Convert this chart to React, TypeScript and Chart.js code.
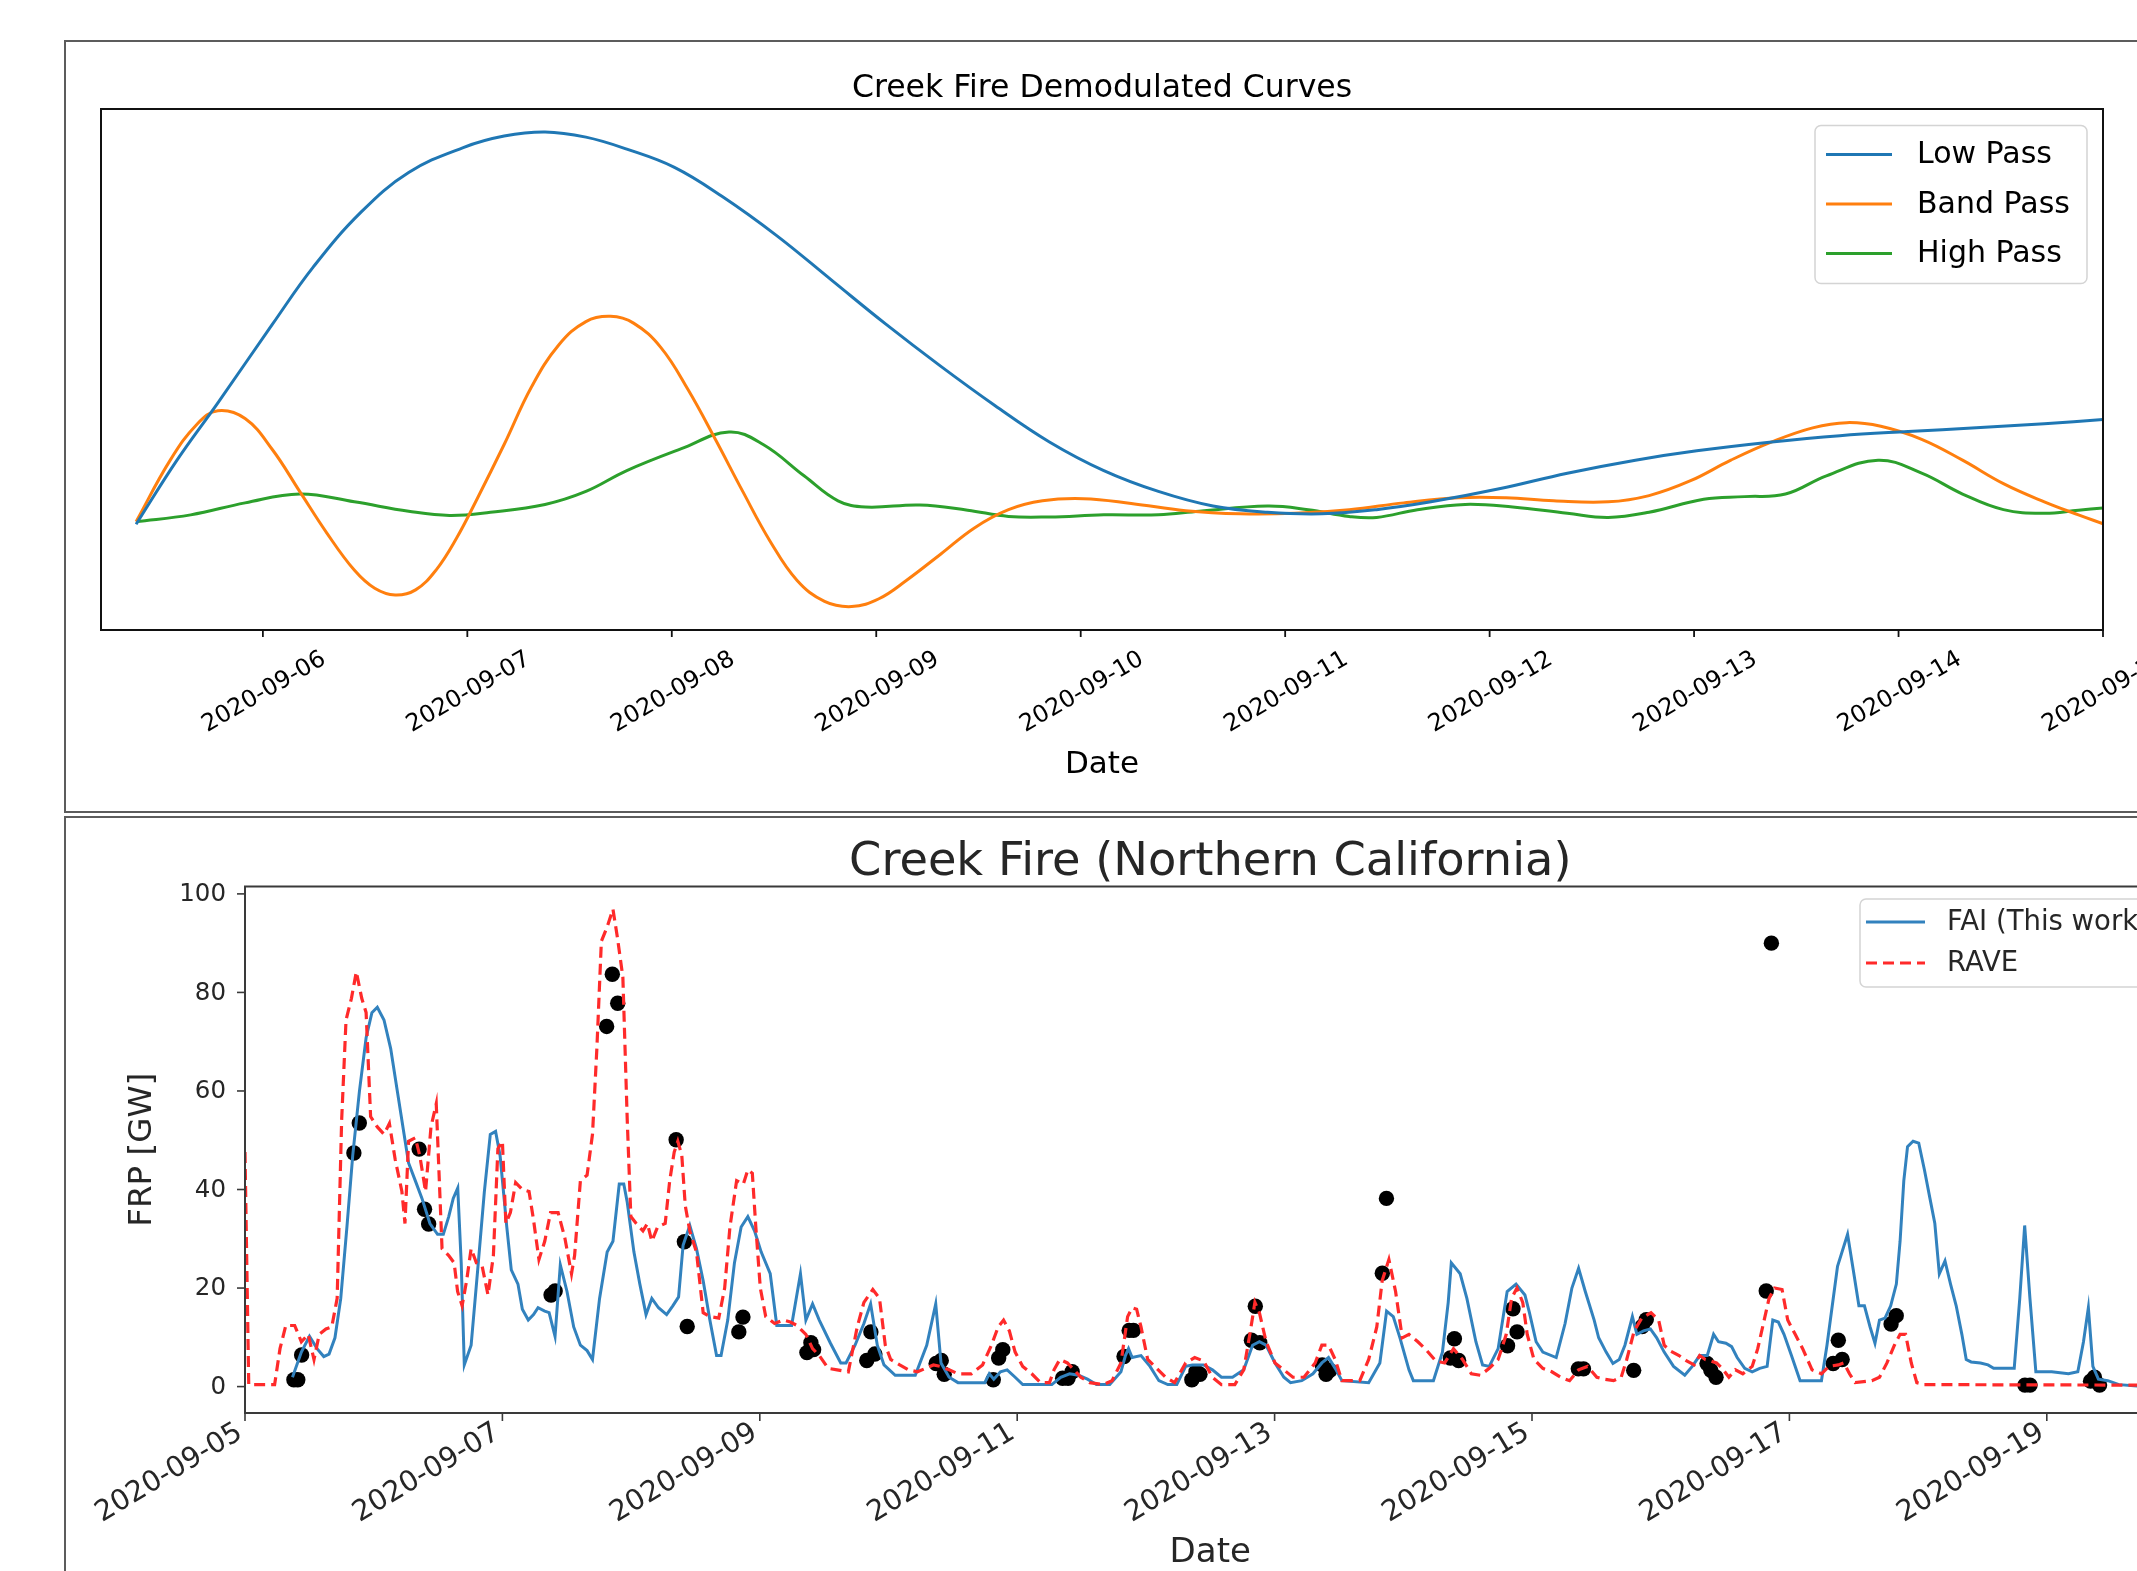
import React, { useEffect, useRef } from 'react';
import { Chart, registerables } from 'chart.js';

Chart.register(...registerables);

const FONT = '"DejaVu Sans", "Liberation Sans", sans-serif';

// ---------------- Top panel: demodulated curves ----------------
// x values are days since 2020-09-05 00:00
const topTickDays = [1, 2, 3, 4, 5, 6, 7, 8, 9, 10];
const topTickLabels = ['2020-09-06', '2020-09-07', '2020-09-08', '2020-09-09', '2020-09-10', '2020-09-11', '2020-09-12', '2020-09-13', '2020-09-14', '2020-09-15'];

const lowPassDays = [0.38, 0.58, 0.78, 1.047, 1.247, 1.48, 1.713, 1.98, 2.18, 2.38, 2.58, 2.78, 3.013, 3.247, 3.513, 3.78, 4.047, 4.313, 4.58, 4.847, 5.113, 5.38, 5.647, 5.913, 6.18, 6.447, 6.713, 7.047, 7.38, 7.713, 8.013, 8.38, 8.713, 9.047, 9.38, 9.713, 10.0];
const lowPassValues = [20.3, 32.6, 43.6, 58.7, 69.7, 80.2, 87.8, 92.6, 94.8, 95.6, 94.6, 92.3, 88.8, 83.2, 75.7, 67.2, 58.7, 50.7, 43.1, 36.1, 30.6, 26.6, 23.8, 22.6, 22.3, 23.1, 24.6, 27.1, 30.1, 32.6, 34.4, 36.1, 37.3, 38.1, 38.8, 39.6, 40.4];

const bandPassDays = [0.38, 0.547, 0.68, 0.78, 0.913, 1.047, 1.18, 1.313, 1.447, 1.547, 1.647, 1.747, 1.847, 1.947, 2.047, 2.18, 2.313, 2.447, 2.58, 2.7, 2.813, 2.947, 3.08, 3.213, 3.347, 3.48, 3.613, 3.747, 3.88, 4.013, 4.147, 4.313, 4.48, 4.647, 4.813, 5.013, 5.247, 5.513, 5.78, 6.047, 6.313, 6.58, 6.847, 7.08, 7.313, 7.58, 7.78, 7.98, 8.18, 8.38, 8.58, 8.747, 8.913, 9.113, 9.313, 9.513, 9.713, 9.88, 10.0];
const bandPassValues = [20.8, 32.6, 39.6, 42.1, 40.6, 34.6, 26.6, 18.6, 11.5, 8.0, 6.7, 7.7, 11.5, 17.6, 25.1, 35.6, 46.6, 54.7, 59.2, 60.2, 58.9, 54.2, 46.1, 36.6, 26.6, 17.1, 9.5, 5.5, 4.5, 6.0, 9.5, 14.5, 19.6, 23.1, 24.8, 25.2, 24.3, 22.9, 22.3, 22.4, 23.1, 24.4, 25.4, 25.4, 24.8, 24.6, 25.8, 28.6, 32.6, 36.1, 38.8, 39.8, 39.1, 36.6, 32.6, 28.1, 24.6, 22.1, 20.4];

const highPassDays = [0.38, 0.647, 0.913, 1.18, 1.447, 1.713, 1.913, 2.113, 2.38, 2.58, 2.78, 3.047, 3.28, 3.447, 3.647, 3.813, 3.947, 4.213, 4.447, 4.647, 4.847, 5.113, 5.38, 5.58, 5.913, 6.113, 6.313, 6.447, 6.647, 6.88, 7.113, 7.38, 7.58, 7.78, 8.047, 8.247, 8.447, 8.647, 8.9, 9.113, 9.313, 9.513, 9.713, 9.88, 10.0];
const highPassValues = [20.8, 22.1, 24.4, 26.1, 24.6, 22.8, 22.0, 22.6, 24.1, 26.6, 30.6, 34.8, 38.0, 35.6, 29.6, 24.8, 23.6, 24.0, 23.0, 21.8, 21.7, 22.1, 22.1, 22.8, 23.8, 23.1, 21.8, 21.6, 23.1, 24.1, 23.6, 22.4, 21.6, 22.6, 25.1, 25.6, 26.1, 29.6, 32.6, 30.1, 26.1, 23.1, 22.4, 23.0, 23.4];

// ---------------- Bottom panel: FRP time series ----------------
const bottomTickDays = [0, 2, 4, 6, 8, 10, 12, 14];
const bottomTickLabels = ['2020-09-05', '2020-09-07', '2020-09-09', '2020-09-11', '2020-09-13', '2020-09-15', '2020-09-17', '2020-09-19'];
const yTickValues = [0, 20, 40, 60, 80, 100];

const faiDays = [0.369, 0.438, 0.501, 0.56, 0.612, 0.653, 0.699, 0.744, 0.792, 0.837, 0.889, 0.941, 0.986, 1.028, 1.08, 1.132, 1.184, 1.236, 1.271, 1.323, 1.375, 1.437, 1.496, 1.541, 1.583, 1.618, 1.653, 1.68, 1.704, 1.757, 1.808, 1.86, 1.906, 1.947, 1.982, 2.034, 2.069, 2.121, 2.155, 2.201, 2.242, 2.277, 2.329, 2.363, 2.409, 2.45, 2.502, 2.554, 2.606, 2.658, 2.7, 2.755, 2.814, 2.859, 2.908, 2.943, 2.97, 3.022, 3.068, 3.116, 3.161, 3.213, 3.276, 3.324, 3.369, 3.404, 3.456, 3.508, 3.56, 3.612, 3.664, 3.699, 3.751, 3.803, 3.855, 3.907, 3.959, 4.011, 4.081, 4.132, 4.184, 4.247, 4.316, 4.358, 4.41, 4.462, 4.549, 4.629, 4.67, 4.74, 4.809, 4.861, 4.913, 4.965, 5.052, 5.208, 5.297, 5.367, 5.408, 5.471, 5.54, 5.748, 5.783, 5.818, 5.87, 5.922, 5.984, 6.043, 6.269, 6.338, 6.407, 6.477, 6.546, 6.616, 6.719, 6.806, 6.841, 6.865, 6.893, 6.962, 7.032, 7.101, 7.17, 7.24, 7.309, 7.361, 7.448, 7.517, 7.587, 7.673, 7.76, 7.829, 7.882, 7.934, 8.003, 8.072, 8.124, 8.211, 8.298, 8.367, 8.419, 8.471, 8.523, 8.731, 8.818, 8.87, 8.922, 8.974, 9.044, 9.078, 9.234, 9.304, 9.349, 9.373, 9.442, 9.494, 9.564, 9.616, 9.668, 9.737, 9.807, 9.876, 9.945, 9.98, 10.032, 10.084, 10.188, 10.257, 10.31, 10.362, 10.414, 10.483, 10.518, 10.576, 10.629, 10.678, 10.722, 10.78, 10.815, 10.867, 10.92, 10.969, 11.027, 11.1, 11.187, 11.245, 11.303, 11.362, 11.411, 11.449, 11.507, 11.551, 11.594, 11.653, 11.711, 11.769, 11.827, 11.871, 11.914, 11.958, 12.016, 12.083, 12.249, 12.292, 12.374, 12.452, 12.496, 12.54, 12.583, 12.627, 12.665, 12.7, 12.743, 12.787, 12.831, 12.86, 12.889, 12.918, 12.961, 13.005, 13.049, 13.092, 13.13, 13.165, 13.209, 13.252, 13.296, 13.34, 13.374, 13.412, 13.485, 13.543, 13.587, 13.747, 13.79, 13.828, 13.869, 13.915, 14.038, 14.168, 14.241, 14.285, 14.323, 14.358, 14.401, 14.474, 14.561, 14.701, 14.9];
const faiValues = [1.9, 7.0, 10.2, 7.7, 6.1, 6.6, 9.9, 17.9, 32.4, 46.9, 59.9, 70.8, 75.9, 77.0, 74.4, 68.6, 59.9, 51.2, 45.4, 41.8, 38.2, 33.1, 30.9, 30.9, 34.5, 38.2, 40.3, 25.1, 4.4, 8.4, 23.7, 39.6, 51.2, 51.8, 46.9, 32.4, 23.7, 20.8, 15.7, 13.5, 14.6, 16.0, 15.3, 15.0, 10.2, 24.7, 19.3, 12.1, 8.4, 7.3, 5.5, 17.9, 27.3, 29.5, 41.1, 41.1, 37.4, 27.3, 20.8, 14.6, 17.9, 16.0, 14.6, 16.4, 18.2, 28.7, 32.7, 28.0, 21.5, 13.5, 6.3, 6.3, 13.5, 25.1, 32.4, 34.5, 31.6, 27.3, 22.9, 12.4, 12.4, 12.4, 22.9, 13.5, 16.8, 13.5, 8.8, 4.8, 4.8, 8.4, 12.8, 16.8, 8.4, 4.4, 2.3, 2.3, 8.4, 16.8, 4.8, 1.9, 0.8, 0.8, 2.6, 1.5, 3.0, 3.4, 1.9, 0.4, 0.4, 1.9, 2.6, 2.3, 1.5, 0.4, 0.4, 3.0, 6.3, 7.7, 5.9, 6.3, 4.1, 1.2, 0.4, 0.4, 4.1, 4.4, 4.4, 3.4, 1.9, 1.9, 3.4, 8.4, 9.1, 8.4, 4.8, 1.9, 0.8, 1.2, 2.6, 4.8, 5.9, 3.7, 1.2, 0.8, 4.8, 15.3, 14.2, 9.9, 3.4, 1.2, 1.2, 7.0, 17.1, 25.1, 22.9, 17.9, 9.1, 4.4, 4.1, 7.7, 19.3, 20.8, 18.6, 15.0, 9.1, 7.0, 5.9, 12.8, 20.0, 24.0, 19.3, 13.5, 9.9, 7.0, 4.7, 5.5, 8.4, 14.2, 10.6, 11.3, 11.7, 9.9, 7.0, 4.1, 2.3, 4.1, 6.3, 6.3, 10.6, 9.1, 8.8, 8.1, 5.9, 3.7, 3.0, 3.7, 4.1, 13.5, 13.1, 10.6, 6.3, 1.2, 1.2, 8.4, 24.4, 30.9, 23.7, 16.4, 16.4, 12.1, 8.8, 13.5, 13.9, 16.4, 20.8, 29.5, 41.8, 48.7, 49.8, 49.4, 44.0, 38.2, 33.1, 22.9, 25.5, 20.8, 16.4, 10.6, 5.5, 5.0, 4.8, 4.4, 3.7, 3.7, 17.9, 32.7, 17.9, 3.0, 3.0, 2.6, 3.0, 9.1, 16.0, 4.1, 1.5, 1.2, 0.4, 0.1, 0.2];

const raveDays = [0, 0.029, 0.23, 0.272, 0.317, 0.386, 0.438, 0.491, 0.536, 0.577, 0.629, 0.674, 0.716, 0.751, 0.785, 0.827, 0.865, 0.907, 0.941, 0.976, 1.028, 1.08, 1.122, 1.167, 1.219, 1.243, 1.271, 1.323, 1.358, 1.403, 1.445, 1.486, 1.531, 1.583, 1.625, 1.652, 1.687, 1.722, 1.757, 1.798, 1.843, 1.888, 1.93, 1.965, 2.0, 2.027, 2.062, 2.103, 2.155, 2.207, 2.242, 2.284, 2.329, 2.374, 2.433, 2.485, 2.537, 2.561, 2.606, 2.658, 2.7, 2.734, 2.769, 2.814, 2.859, 2.894, 2.936, 2.97, 2.998, 3.04, 3.092, 3.127, 3.161, 3.206, 3.265, 3.3, 3.335, 3.363, 3.394, 3.421, 3.456, 3.508, 3.56, 3.612, 3.681, 3.727, 3.768, 3.82, 3.872, 3.907, 3.942, 3.969, 4.004, 4.046, 4.115, 4.184, 4.237, 4.289, 4.358, 4.41, 4.462, 4.531, 4.601, 4.688, 4.757, 4.809, 4.878, 4.93, 4.975, 5.017, 5.087, 5.156, 5.225, 5.349, 5.401, 5.471, 5.54, 5.644, 5.731, 5.8, 5.852, 5.894, 5.939, 5.984, 6.043, 6.113, 6.182, 6.251, 6.286, 6.331, 6.39, 6.442, 6.494, 6.563, 6.667, 6.737, 6.806, 6.858, 6.893, 6.928, 6.962, 7.014, 7.084, 7.153, 7.223, 7.309, 7.379, 7.448, 7.517, 7.587, 7.691, 7.76, 7.812, 7.847, 7.882, 7.934, 8.003, 8.072, 8.142, 8.228, 8.315, 8.367, 8.419, 8.471, 8.523, 8.662, 8.731, 8.794, 8.836, 8.888, 8.94, 8.992, 9.044, 9.113, 9.183, 9.252, 9.321, 9.39, 9.46, 9.529, 9.598, 9.668, 9.737, 9.8, 9.841, 9.883, 9.928, 9.963, 10.015, 10.084, 10.154, 10.223, 10.292, 10.362, 10.431, 10.504, 10.562, 10.634, 10.693, 10.736, 10.794, 10.853, 10.925, 10.984, 11.027, 11.071, 11.143, 11.202, 11.26, 11.303, 11.347, 11.391, 11.434, 11.478, 11.53, 11.58, 11.638, 11.711, 11.754, 11.798, 11.842, 11.885, 11.943, 11.987, 12.045, 12.103, 12.176, 12.249, 12.307, 12.38, 12.423, 12.467, 12.511, 12.641, 12.7, 12.758, 12.816, 12.86, 12.903, 12.947, 12.99, 13.049, 14.701, 14.9];
const raveValues = [47.6, 0.4, 0.4, 7.7, 12.4, 12.4, 9.1, 10.6, 5.5, 10.6, 11.7, 12.1, 17.9, 54.1, 74.4, 78.8, 84.2, 78.8, 75.9, 54.8, 52.7, 51.2, 53.4, 46.1, 39.6, 33.1, 49.8, 50.5, 46.9, 39.6, 52.7, 57.4, 28.0, 26.6, 25.1, 19.3, 16.4, 21.5, 28.0, 25.1, 24.4, 18.6, 26.6, 48.3, 49.8, 33.1, 35.3, 41.4, 40.0, 39.6, 33.8, 25.8, 29.5, 35.3, 35.3, 30.2, 22.9, 26.6, 41.8, 42.9, 51.2, 68.6, 90.4, 93.3, 96.9, 91.1, 83.1, 54.1, 34.5, 33.1, 31.6, 33.1, 29.5, 32.4, 33.1, 41.8, 47.6, 49.8, 46.9, 36.7, 31.6, 27.3, 15.0, 14.2, 13.9, 20.0, 32.4, 41.8, 41.1, 44.0, 43.3, 32.4, 20.0, 14.2, 12.8, 13.5, 13.1, 12.4, 10.6, 7.7, 6.3, 3.7, 3.4, 3.0, 12.1, 17.1, 19.7, 17.9, 8.4, 5.5, 4.4, 3.4, 3.0, 4.4, 4.1, 3.4, 2.6, 2.6, 4.4, 8.4, 12.1, 13.5, 11.3, 7.0, 4.1, 2.6, 0.8, 0.8, 3.4, 5.5, 4.8, 3.4, 1.9, 0.8, 0.4, 1.2, 4.8, 14.2, 16.0, 15.7, 12.1, 5.5, 3.7, 1.9, 0.8, 4.8, 5.9, 5.2, 1.9, 0.4, 0.4, 3.4, 11.3, 17.1, 15.0, 9.1, 4.8, 3.4, 1.9, 1.9, 4.8, 8.4, 8.4, 5.5, 1.2, 1.2, 5.5, 12.1, 21.5, 25.8, 19.3, 9.9, 10.6, 9.1, 7.3, 5.2, 4.8, 7.7, 5.5, 2.6, 2.3, 3.7, 5.5, 10.6, 17.9, 20.0, 17.1, 10.6, 5.5, 3.7, 3.0, 1.9, 1.2, 3.4, 4.1, 1.9, 1.5, 1.2, 1.9, 5.5, 11.3, 13.9, 15.0, 13.5, 8.4, 7.3, 6.3, 5.2, 4.4, 6.3, 5.5, 5.2, 4.8, 3.7, 1.9, 3.4, 2.6, 4.1, 7.7, 12.8, 17.9, 20.0, 19.7, 13.5, 10.6, 7.7, 3.4, 2.6, 4.1, 4.4, 4.8, 2.6, 0.8, 1.2, 1.9, 4.8, 8.4, 10.6, 10.6, 4.8, 0.8, 0.4, 0.3, 0.3];

const obsDays = [0.38, 0.41, 0.44, 0.846, 0.888, 1.353, 1.395, 1.427, 2.378, 2.41, 2.81, 2.854, 2.896, 3.35, 3.414, 3.436, 3.837, 3.869, 4.366, 4.397, 4.418, 4.831, 4.863, 4.894, 5.37, 5.41, 5.433, 5.814, 5.856, 5.888, 6.353, 6.395, 6.427, 6.83, 6.87, 6.903, 7.357, 7.389, 7.42, 7.82, 7.85, 7.885, 8.37, 8.4, 8.43, 8.837, 8.869, 9.366, 9.397, 9.43, 9.81, 9.852, 9.884, 10.36, 10.4, 10.79, 10.856, 10.888, 11.36, 11.39, 11.43, 11.82, 11.86, 12.34, 12.38, 12.41, 12.79, 12.83, 13.83, 13.87, 14.34, 14.37, 14.41];
const obsValues = [1.4, 1.4, 6.4, 47.4, 53.5, 48.2, 36.0, 33.0, 18.6, 19.4, 73.1, 83.7, 77.8, 50.1, 29.4, 12.2, 11.1, 14.1, 6.9, 8.9, 7.5, 5.3, 11.1, 6.6, 4.7, 5.3, 2.5, 1.4, 5.8, 7.5, 1.7, 1.7, 3.0, 6.1, 11.4, 11.4, 1.4, 3.0, 2.5, 9.4, 16.3, 8.9, 4.4, 2.5, 3.3, 23.0, 38.2, 5.8, 9.7, 5.3, 8.3, 15.8, 11.1, 3.6, 3.6, 3.3, 12.2, 13.6, 4.7, 3.3, 1.9, 19.4, 90.0, 4.7, 9.4, 5.5, 12.7, 14.4, 0.3, 0.3, 1.1, 1.9, 0.3];

const toPts = (xs: number[], ys: number[]) => xs.map((x, i) => ({ x, y: ys[i] }));

// ---------------- drawing helpers ----------------
function drawRotatedLabel(ctx: CanvasRenderingContext2D, text: string, anchorX: number, topY: number, fontPx: number, align: 'center' | 'right', deg: number) {
  ctx.font = `${fontPx}px ${FONT}`;
  const w = ctx.measureText(text).width;
  const hInk = 0.73 * fontPx;
  const a = (deg * Math.PI) / 180;
  const W = w * Math.cos(a) + hInk * Math.sin(a);
  const H = w * Math.sin(a) + hInk * Math.cos(a);
  const cx = align === 'center' ? anchorX : anchorX - W / 2;
  const cy = topY + H / 2;
  ctx.save();
  ctx.translate(cx, cy);
  ctx.rotate(-a);
  ctx.textAlign = 'center';
  ctx.textBaseline = 'alphabetic';
  ctx.fillText(text, 0, hInk / 2);
  ctx.restore();
}

function roundRectPath(ctx: CanvasRenderingContext2D, x: number, y: number, w: number, h: number, r: number) {
  ctx.beginPath();
  ctx.moveTo(x + r, y);
  ctx.lineTo(x + w - r, y);
  ctx.arcTo(x + w, y, x + w, y + r, r);
  ctx.lineTo(x + w, y + h - r);
  ctx.arcTo(x + w, y + h, x + w - r, y + h, r);
  ctx.lineTo(x + r, y + h);
  ctx.arcTo(x, y + h, x, y + h - r, r);
  ctx.lineTo(x, y + r);
  ctx.arcTo(x, y, x + r, y, r);
  ctx.closePath();
}

type LegendItem = { label: string; color: string; dash: number[]; width: number };

function drawLegend(ctx: CanvasRenderingContext2D, box: { x: number; y: number; w: number; h: number }, items: LegendItem[], rowY0: number, rowGap: number, hx0: number, hx1: number, tx: number, fontPx: number, textColor: string) {
  ctx.save();
  roundRectPath(ctx, box.x, box.y, box.w, box.h, 6);
  ctx.fillStyle = 'rgba(255,255,255,0.85)';
  ctx.fill();
  ctx.strokeStyle = '#d4d4d4';
  ctx.lineWidth = 1.5;
  ctx.stroke();
  items.forEach((it, i) => {
    const y = rowY0 + i * rowGap;
    ctx.beginPath();
    ctx.setLineDash(it.dash);
    ctx.strokeStyle = it.color;
    ctx.lineWidth = it.width;
    ctx.moveTo(hx0, y);
    ctx.lineTo(hx1, y);
    ctx.stroke();
    ctx.setLineDash([]);
    ctx.fillStyle = textColor;
    ctx.font = `${fontPx}px ${FONT}`;
    ctx.textAlign = 'left';
    ctx.textBaseline = 'middle';
    ctx.fillText(it.label, tx, y + 1);
  });
  ctx.restore();
}

// ---------------- plugins ----------------
const topDecor = {
  id: 'topDecor',
  afterDraw(chart: any) {
    const ctx: CanvasRenderingContext2D = chart.ctx;
    const ca = chart.chartArea;
    const xs = chart.scales.x;
    ctx.save();
    ctx.strokeStyle = '#5c5c5c';
    ctx.lineWidth = 2;
    ctx.beginPath();
    ctx.moveTo(chart.width + 20, 41);
    ctx.lineTo(65, 41);
    ctx.lineTo(65, 812);
    ctx.lineTo(chart.width + 20, 812);
    ctx.stroke();
    ctx.strokeStyle = '#111';
    ctx.lineWidth = 2;
    ctx.strokeRect(ca.left, ca.top, ca.right - ca.left, ca.bottom - ca.top);
    ctx.fillStyle = '#000';
    topTickDays.forEach((d, i) => {
      const px = xs.getPixelForValue(d);
      ctx.beginPath();
      ctx.lineWidth = 1.8;
      ctx.moveTo(px, ca.bottom);
      ctx.lineTo(px, ca.bottom + 7);
      ctx.stroke();
      drawRotatedLabel(ctx, topTickLabels[i], px, ca.bottom + 18, 23.8, 'center', 30);
    });
    const cx = (ca.left + ca.right) / 2;
    ctx.fillStyle = '#000';
    ctx.textAlign = 'center';
    ctx.textBaseline = 'alphabetic';
    ctx.font = `31.5px ${FONT}`;
    ctx.fillText('Creek Fire Demodulated Curves', cx, ca.top - 12);
    ctx.font = `31px ${FONT}`;
    ctx.fillText('Date', cx, ca.bottom + 143);
    const lx = ca.right - 288;
    const ly = ca.top + 16.5;
    drawLegend(
      ctx,
      { x: lx, y: ly, w: 272, h: 158 },
      [
        { label: 'Low Pass', color: '#1f77b4', dash: [], width: 3 },
        { label: 'Band Pass', color: '#ff7f0e', dash: [], width: 3 },
        { label: 'High Pass', color: '#2ca02c', dash: [], width: 3 },
      ],
      ly + 29,
      49.5,
      lx + 11,
      lx + 77,
      lx + 102,
      30,
      '#000'
    );
    ctx.restore();
  },
};

const bottomDecor = {
  id: 'bottomDecor',
  afterDraw(chart: any) {
    const ctx: CanvasRenderingContext2D = chart.ctx;
    const ca = chart.chartArea;
    const xs = chart.scales.x;
    const ys = chart.scales.y;
    ctx.save();
    ctx.strokeStyle = '#5c5c5c';
    ctx.lineWidth = 2;
    ctx.beginPath();
    ctx.moveTo(chart.width + 20, 2);
    ctx.lineTo(65, 2);
    ctx.lineTo(65, chart.height + 20);
    ctx.stroke();
    ctx.strokeStyle = '#3a3a3a';
    ctx.lineWidth = 2;
    ctx.strokeRect(ca.left, ca.top, ca.right - ca.left, ca.bottom - ca.top);
    ctx.fillStyle = '#262626';
    ctx.font = `24.5px ${FONT}`;
    ctx.textAlign = 'right';
    ctx.textBaseline = 'middle';
    yTickValues.forEach((v) => {
      const py = ys.getPixelForValue(v);
      ctx.beginPath();
      ctx.lineWidth = 1.6;
      ctx.moveTo(ca.left - 8, py);
      ctx.lineTo(ca.left, py);
      ctx.stroke();
      ctx.fillText(String(v), ca.left - 19, py + 1);
    });
    bottomTickDays.forEach((d, i) => {
      const px = xs.getPixelForValue(d);
      ctx.beginPath();
      ctx.lineWidth = 1.6;
      ctx.moveTo(px, ca.bottom);
      ctx.lineTo(px, ca.bottom + 8);
      ctx.stroke();
      drawRotatedLabel(ctx, bottomTickLabels[i], px - 1, ca.bottom + 6, 28.5, 'right', 31);
    });
    const cx = (ca.left + ca.right) / 2;
    ctx.textAlign = 'center';
    ctx.textBaseline = 'alphabetic';
    ctx.font = `46.3px ${FONT}`;
    ctx.fillText('Creek Fire (Northern California)', cx, ca.top - 12);
    ctx.font = `34px ${FONT}`;
    ctx.fillText('Date', cx, ca.bottom + 149);
    ctx.save();
    ctx.translate(143, (ca.top + ca.bottom) / 2);
    ctx.rotate(-Math.PI / 2);
    ctx.font = `32.5px ${FONT}`;
    ctx.textBaseline = 'middle';
    ctx.fillText('FRP [GW]', 0, 0);
    ctx.restore();
    const lx = ca.right - 315.5;
    const ly = ca.top + 12.5;
    drawLegend(
      ctx,
      { x: lx, y: ly, w: 310, h: 88 },
      [
        { label: 'FAI (This work)', color: '#3282be', dash: [], width: 3.2 },
        { label: 'RAVE', color: '#ff2a2a', dash: [11, 6], width: 3.2 },
      ],
      ly + 23,
      41,
      lx + 6,
      lx + 65,
      lx + 87,
      27.5,
      '#262626'
    );
    ctx.restore();
  },
};

export default function App() {
  const topRef = useRef<HTMLCanvasElement | null>(null);
  const botRef = useRef<HTMLCanvasElement | null>(null);

  useEffect(() => {
    if (!topRef.current || !botRef.current) return;
    const top = new Chart(topRef.current, {
      type: 'line',
      data: {
        datasets: [
          { label: 'Low Pass', data: toPts(lowPassDays, lowPassValues), borderColor: '#1f77b4', borderWidth: 3, pointRadius: 0, tension: 0.4, fill: false },
          { label: 'Band Pass', data: toPts(bandPassDays, bandPassValues), borderColor: '#ff7f0e', borderWidth: 3, pointRadius: 0, tension: 0.4, fill: false },
          { label: 'High Pass', data: toPts(highPassDays, highPassValues), borderColor: '#2ca02c', borderWidth: 3, pointRadius: 0, tension: 0.4, fill: false },
        ],
      } as any,
      options: {
        animation: false,
        responsive: false,
        maintainAspectRatio: false,
        devicePixelRatio: 1,
        layout: { padding: { left: 101, top: 109, right: 34, bottom: 185 } },
        scales: {
          x: { type: 'linear', min: 0.2083, max: 10, display: false },
          y: { type: 'linear', min: 0, max: 100, display: false },
        },
        plugins: { legend: { display: false }, tooltip: { enabled: false }, title: { display: false } },
        events: [],
      } as any,
      plugins: [topDecor],
    });

    const bottom = new Chart(botRef.current, {
      type: 'line',
      data: {
        datasets: [
          { label: 'RAVE', data: toPts(raveDays, raveValues), borderColor: '#ff2a2a', borderWidth: 3.2, borderDash: [11, 6], pointRadius: 0, tension: 0, fill: false, order: 0 },
          { label: 'FAI (This work)', data: toPts(faiDays, faiValues), borderColor: '#3282be', borderWidth: 3, pointRadius: 0, tension: 0, fill: false, order: 1 },
          { type: 'scatter', label: 'Obs', data: toPts(obsDays, obsValues), backgroundColor: '#000', borderColor: '#000', pointStyle: 'circle', pointRadius: 7.7, borderWidth: 0, showLine: false, order: 2 },
        ],
      } as any,
      options: {
        animation: false,
        responsive: false,
        maintainAspectRatio: false,
        devicePixelRatio: 1,
        layout: { padding: { left: 245, top: 71.5, right: 74.5, bottom: 158 } },
        scales: {
          x: { type: 'linear', min: 0, max: 15, display: false },
          y: { type: 'linear', min: -5.36, max: 101.5, display: false },
        },
        plugins: { legend: { display: false }, tooltip: { enabled: false }, title: { display: false } },
        events: [],
      } as any,
      plugins: [bottomDecor],
    });

    return () => {
      top.destroy();
      bottom.destroy();
    };
  }, []);

  return (
    <div style={{ position: 'fixed', left: 0, top: 0, width: '2137px', height: '1571px', overflow: 'hidden', background: '#fff' }}>
      <canvas ref={topRef} width={2137} height={815} style={{ position: 'absolute', left: 0, top: 0, width: '2137px', height: '815px' }} />
      <canvas ref={botRef} width={2250} height={756} style={{ position: 'absolute', left: 0, top: '815px', width: '2250px', height: '756px' }} />
    </div>
  );
}
